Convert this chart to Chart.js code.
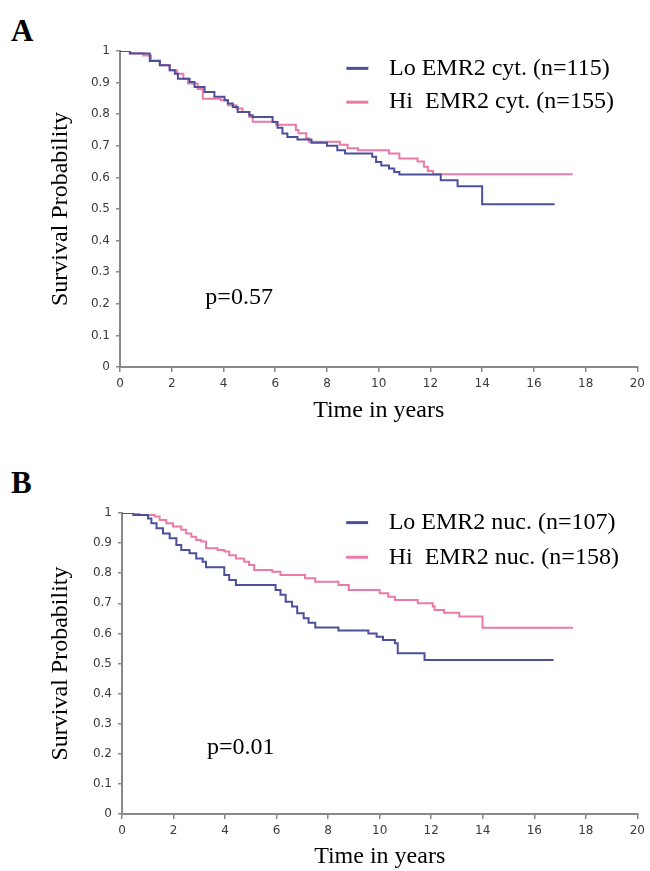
<!DOCTYPE html>
<html>
<head>
<meta charset="utf-8">
<script src="https://cdn.jsdelivr.net/npm/chart.js@4.4.0/dist/chart.umd.min.js"></script>
<style>
html,body{margin:0;padding:0;background:#fff;}
#wrap{position:relative;width:650px;height:871px;overflow:hidden;background:#fff;}
canvas{position:absolute;left:0;}
.panel{position:absolute;font-family:"Liberation Serif","Times New Roman",serif;font-weight:bold;font-size:31px;color:#000;line-height:1;}
</style>
</head>
<body>
<div id="wrap">
<div class="panel" style="left:11px;top:15px">A</div>
<div class="panel" style="left:11px;top:467px">B</div>
<canvas id="cA" width="650" height="440" style="top:0"></canvas>
<canvas id="cB" width="650" height="431" style="top:440px"></canvas>
</div>
<script>
// ---------- data ----------
const xTicks = [0,2,4,6,8,10,12,14,16,18,20];
const yTicks = [0,0.1,0.2,0.3,0.4,0.5,0.6,0.7,0.8,0.9,1];

// Panel A – cytoplasmic EMR2
const labelA_lo = "Lo EMR2 cyt. (n=115)";
const labelA_hi = "Hi  EMR2 cyt. (n=155)";
const timeA_lo = [0,0.38,1.15,1.54,1.92,2.12,2.24,2.69,2.88,3.27,3.65,4.04,4.17,4.36,4.55,5.0,5.13,5.9,6.09,6.28,6.47,6.86,7.4,8.0,8.4,8.7,9.75,9.9,10.1,10.4,10.6,10.8,12.4,13.05,14.0,16.8];
const survA_lo = [1,0.992,0.968,0.955,0.939,0.928,0.912,0.902,0.886,0.87,0.855,0.844,0.834,0.823,0.807,0.797,0.791,0.775,0.757,0.739,0.728,0.72,0.71,0.70,0.686,0.676,0.665,0.649,0.638,0.628,0.617,0.609,0.591,0.572,0.515,0.515];
const timeA_hi = [0,0.4,0.9,1.2,1.54,1.92,2.2,2.45,2.63,3.0,3.2,3.9,4.17,4.5,4.74,5.0,5.13,6.03,6.8,6.9,7.2,7.3,8.5,8.8,9.2,10.4,10.8,11.5,11.75,11.9,12.1,17.5];
const survA_hi = [1,0.993,0.986,0.97,0.955,0.939,0.928,0.912,0.897,0.88,0.849,0.844,0.828,0.818,0.807,0.791,0.776,0.767,0.75,0.74,0.724,0.713,0.703,0.692,0.686,0.676,0.66,0.65,0.634,0.62,0.61,0.61];
const pA = "p=0.57";

// Panel B – nuclear EMR2
const labelB_lo = "Lo EMR2 nuc. (n=107)";
const labelB_hi = "Hi  EMR2 nuc. (n=158)";
const timeB_lo = [0,0.44,1.01,1.14,1.34,1.59,1.85,2.11,2.3,2.62,2.88,3.13,3.26,3.97,4.16,4.42,5.96,6.15,6.35,6.6,6.8,7.05,7.24,7.5,8.4,9.56,9.88,10.13,10.59,10.7,11.74,16.75];
const survB_lo = [1,0.993,0.982,0.966,0.949,0.932,0.916,0.894,0.877,0.866,0.849,0.838,0.82,0.794,0.777,0.761,0.744,0.728,0.705,0.689,0.667,0.65,0.635,0.62,0.61,0.6,0.589,0.578,0.567,0.534,0.512,0.512];
const timeB_hi = [0,0.69,1.27,1.46,1.72,1.98,2.3,2.49,2.69,2.88,3.07,3.26,3.71,3.97,4.16,4.42,4.74,4.93,5.13,5.83,6.15,7.1,7.5,8.4,8.8,10.0,10.33,10.59,11.48,12.06,12.13,12.5,13.09,13.99,17.5];
const survB_hi = [1,0.993,0.988,0.977,0.966,0.955,0.944,0.932,0.921,0.91,0.905,0.883,0.877,0.872,0.86,0.849,0.838,0.827,0.811,0.805,0.794,0.783,0.772,0.761,0.744,0.733,0.722,0.711,0.70,0.689,0.678,0.669,0.656,0.619,0.619];
const pB = "p=0.01";

// ---------- styling ----------
const BLUE = "#4c4f99";
const PINK = "#ec7aa8";
const AXIS = "#888888";
const SERIF = '"Liberation Serif","Times New Roman",serif';
const TICKFONT = {family:'"DejaVu Sans",sans-serif', size:12};

function pts(t, s){ return t.map((x,i)=>({x:x, y:s[i]})); }

const annot = {
  id:'annot',
  afterDraw(chart, args, o){
    const {ctx} = chart; const xs = chart.scales.x, ys = chart.scales.y;
    ctx.save();
    ctx.font = '24px ' + SERIF;
    ctx.textBaseline = 'middle';
    ctx.textAlign = 'left';
    o.legendY.forEach((ly,i)=>{
      const ds = chart.data.datasets[i];
      const yy = ys.getPixelForValue(ly);
      ctx.strokeStyle = ds.borderColor; ctx.lineWidth = 3;
      ctx.beginPath();
      ctx.moveTo(xs.getPixelForValue(o.lx0), yy);
      ctx.lineTo(xs.getPixelForValue(o.lx1), yy);
      ctx.stroke();
      ctx.fillStyle = '#000';
      ctx.fillText(ds.label, xs.getPixelForValue(o.tx), yy);
    });
    ctx.fillStyle = '#000';
    ctx.fillText(o.p, xs.getPixelForValue(o.px), ys.getPixelForValue(o.py));
    ctx.restore();
  }
};

function makeChart(id, lo, hi, cfg){
  return new Chart(document.getElementById(id), {
    type:'line',
    data:{datasets:[
      {label:lo.label, data:pts(lo.t, lo.s), borderColor:BLUE, borderWidth:2, stepped:true, pointRadius:0, fill:false},
      {label:hi.label, data:pts(hi.t, hi.s), borderColor:PINK, borderWidth:2, stepped:true, pointRadius:0, fill:false}
    ]},
    options:{
      responsive:false, animation:false, events:[],
      layout:{padding:{top:cfg.top, right:9, left:40, bottom:0}},
      plugins:{legend:{display:false}, tooltip:{enabled:false}, annot:cfg.annot},
      scales:{
        x:{type:'linear', min:0, max:20,
           afterBuildTicks(s){ s.ticks = xTicks.map(v=>({value:v})); },
           afterFit(s){ s.height = cfg.xh; },
           grid:{drawOnChartArea:false, drawTicks:true, tickLength:5, color:AXIS, lineWidth:1.5},
           border:{display:true, color:AXIS, width:2},
           ticks:{padding:5, color:'#3a3a3a', font:TICKFONT, maxRotation:0, autoSkip:false,
                  callback:(v)=>String(v)},
           title:{display:true, text:'Time in years', color:'#000', font:{family:SERIF, size:24}, padding:{top:0,bottom:cfg.xtp}}
        },
        y:{type:'linear', min:0, max:1,
           afterBuildTicks(s){ s.ticks = yTicks.map(v=>({value:v})); },
           afterFit(s){ s.width = cfg.yw; },
           grid:{drawOnChartArea:false, drawTicks:true, tickLength:4, color:AXIS, lineWidth:1.5},
           border:{display:true, color:AXIS, width:2},
           ticks:{padding:6, color:'#3a3a3a', font:TICKFONT, autoSkip:false,
                  callback:(v)=>String(Math.round(v*10)/10)},
           title:{display:true, text:'Survival Probability', color:'#000', font:{family:SERIF, size:24}, padding:{top:6,bottom:0}}
        }
      }
    },
    plugins:[annot]
  });
}

makeChart('cA', {label:labelA_lo, t:timeA_lo, s:survA_lo}, {label:labelA_hi, t:timeA_hi, s:survA_hi},
  {top:51, xh:73, xtp:15, yw:80,
   annot:{legendY:[0.945,0.838], lx0:8.75, lx1:9.6, tx:10.4, p:pA, px:3.3, py:0.22}});
makeChart('cB', {label:labelB_lo, t:timeB_lo, s:survB_lo}, {label:labelB_hi, t:timeB_hi, s:survB_hi},
  {top:73, xh:57, xtp:0, yw:82,
   annot:{legendY:[0.968,0.853], lx0:8.7, lx1:9.55, tx:10.35, p:pB, px:3.3, py:0.22}});
</script>
</body>
</html>
